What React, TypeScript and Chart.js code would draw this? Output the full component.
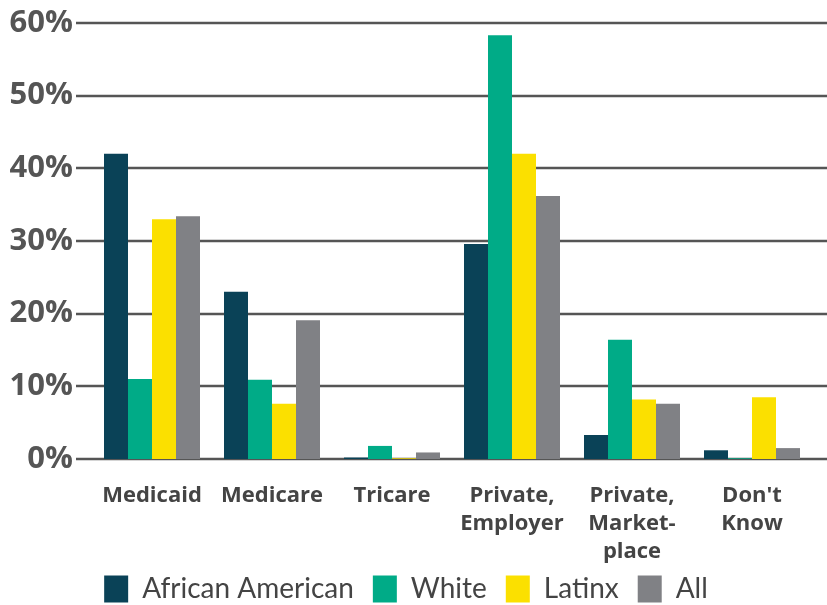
import React, { useEffect, useRef } from "react";
import { Chart, registerables } from "chart.js";

Chart.register(...registerables);

const categories: (string | string[])[] = [
  "Medicaid",
  "Medicare",
  "Tricare",
  ["Private,", "Employer"],
  ["Private,", "Market-", "place"],
  ["Don't", "Know"],
];
const africanAmerican = [42.0, 23.0, 0.2, 29.6, 3.3, 1.2];
const white = [11.0, 10.9, 1.8, 58.3, 16.4, 0.1];
const latinx = [33.0, 7.6, 0.1, 42.0, 8.2, 8.5];
const all = [33.4, 19.1, 0.9, 36.2, 7.6, 1.5];
const yTicks = [0, 10, 20, 30, 40, 50, 60];

const gridPlugin = {
  id: "fullGrid",
  beforeDatasetsDraw(chart: any) {
    const ctx = chart.ctx;
    const y = chart.scales.y;
    ctx.save();
    ctx.strokeStyle = "#555555";
    ctx.lineWidth = 2.5;
    for (const v of yTicks) {
      const py = Math.round(y.getPixelForValue(v));
      ctx.beginPath();
      ctx.moveTo(chart.chartArea.left - 16, py);
      ctx.lineTo(chart.width, py);
      ctx.stroke();
    }
    ctx.restore();
  },
};

export default function App() {
  const ref = useRef<HTMLCanvasElement>(null);
  useEffect(() => {
    if (!ref.current) return;
    const chart = new Chart(ref.current, {
      type: "bar",
      data: {
        labels: categories,
        datasets: [
          { label: "African American", data: africanAmerican, backgroundColor: "#0a4257" },
          { label: "White", data: white, backgroundColor: "#00ab87" },
          { label: "Latinx", data: latinx, backgroundColor: "#fbe000" },
          { label: "All", data: all, backgroundColor: "#808185" },
        ],
      },
      options: {
        animation: false,
        responsive: false,
        maintainAspectRatio: false,
        layout: { padding: { top: 23, right: 15, left: 0, bottom: -8 } },
        datasets: { bar: { categoryPercentage: 0.8, barPercentage: 1.0 } },
        plugins: {
          tooltip: { enabled: false },
          legend: {
            position: "bottom",
            labels: {
              boxWidth: 24,
              boxHeight: 27,
              padding: 19,
              color: "#444444",
              font: { family: "Lato", size: 28 },
            },
          },
        },
        scales: {
          x: {
            grid: { display: false },
            border: { display: false },
            afterFit(scale: any) {
              scale.height = 97;
              scale._computeLabelArea = () => undefined;
            },
            ticks: {
              color: "#444444",
              font: { family: "Open Sans", size: 22, weight: "bold", lineHeight: 1.27 },
              padding: 15,
              maxRotation: 0,
              autoSkip: false,
            },
          },
          y: {
            min: 0,
            max: 60,
            grid: { display: false },
            border: { display: false },
            afterFit(scale: any) {
              scale.width = 92;
              scale.paddingTop = 0;
              scale.paddingBottom = 0;
            },
            ticks: {
              stepSize: 10,
              padding: 11,
              color: "#555555",
              font: { family: "Open Sans", size: 31, weight: "bold" },
              callback: (v: any) => v + "%",
            },
          },
        },
      },
      plugins: [gridPlugin],
    });
    return () => chart.destroy();
  }, []);
  return (
    <div style={{ position: "fixed", left: 0, top: 0, width: 827, height: 605, background: "#fff" }}>
      <canvas ref={ref} width={827} height={605} style={{ display: "block" }} />
    </div>
  );
}
